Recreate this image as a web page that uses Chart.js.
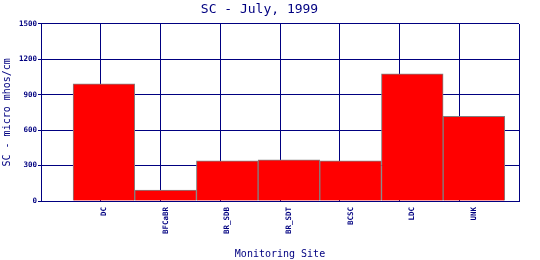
<!DOCTYPE html>
<html>
<head>
<meta charset="utf-8">
<script src="https://cdn.jsdelivr.net/npm/chart.js@4"></script>
<style>
  html, body { margin: 0; padding: 0; background: #fff; }
  #wrap { width: 540px; height: 260px; }
</style>
</head>
<body>
<div id="wrap"><canvas id="myChart" width="540" height="260"></canvas></div>
<script>
const sites = ['DC', 'BFCaBR', 'BR_SDB', 'BR_SDT', 'BCSC', 'LDC', 'UNK'];
const scValues = [990, 92, 339, 348, 339, 1075, 716];
const yTicks = [0, 300, 600, 900, 1200, 1500];

const navy = '#000080';
const mono = 'DejaVu Sans Mono';

const ctx = document.getElementById('myChart').getContext('2d');

const points = sites.map((s, i) => ({ x: i + 1, y: scValues[i] }));

const data = {
  datasets: [
    {
      data: points,
      backgroundColor: '#ff0000',
      borderColor: '#808080',
      borderWidth: 1,
      barPercentage: 1,
      categoryPercentage: 1
    }
  ]
};

const config = {
  type: 'bar',
  data: data,
  options: {
    responsive: false,
    animation: false,
    layout: { padding: { left: 0, right: 21, top: 0, bottom: 0 } },
    plugins: {
      legend: { display: false },
      tooltip: { enabled: false },
      title: {
        display: true,
        text: 'SC - July, 1999',
        color: navy,
        font: { family: mono, size: 13, weight: 'normal' },
        padding: { top: 2, bottom: 6 }
      }
    },
    scales: {
      x: {
        type: 'linear',
        position: 'bottom',
        min: -0.02,
        max: 7.73,
        offset: false,
        afterBuildTicks: (scale) => {
          scale.ticks = sites.map((s, i) => ({ value: i + 1 }));
        },
        afterFit: (scale) => { scale.height = 59; },
        grid: { display: false, offset: false, drawTicks: false },
        border: { display: true, color: navy, width: 1 },
        ticks: {
          color: navy,
          font: { family: mono, size: 7.5, weight: 'bold' },
          minRotation: 90,
          maxRotation: 90,
          autoSkip: false,
          padding: 6,
          callback: (v) => sites[v - 1] || ''
        },
        title: {
          display: true,
          text: 'Monitoring Site',
          color: navy,
          font: { family: mono, size: 10 },
          padding: { top: 0, bottom: 0 }
        }
      },
      xg: {
        type: 'linear',
        position: 'top',
        min: 0,
        max: 8,
        offset: false,
        afterFit: (scale) => { scale.height = 0; },
        ticks: { display: false, stepSize: 1 },
        grid: { color: navy, lineWidth: 1, drawTicks: false, offset: false },
        border: { display: false }
      },
      y: {
        min: 0,
        max: 1500,
        afterBuildTicks: (scale) => {
          scale.ticks = yTicks.map(v => ({ value: v }));
        },
        afterFit: (scale) => { scale.width = 41; },
        grid: { color: navy, lineWidth: 1, tickLength: 3, tickColor: navy },
        border: { display: true, color: navy, width: 1 },
        ticks: {
          color: navy,
          font: { family: mono, size: 7.5, weight: 'bold' },
          padding: 1,
          callback: (v) => String(v)
        },
        title: {
          display: true,
          text: 'SC - micro mhos/cm',
          color: navy,
          font: { family: mono, size: 10 },
          padding: { top: 1, bottom: 0 }
        }
      }
    }
  }
};

const myChart = new Chart(ctx, config);
</script>
</body>
</html>
